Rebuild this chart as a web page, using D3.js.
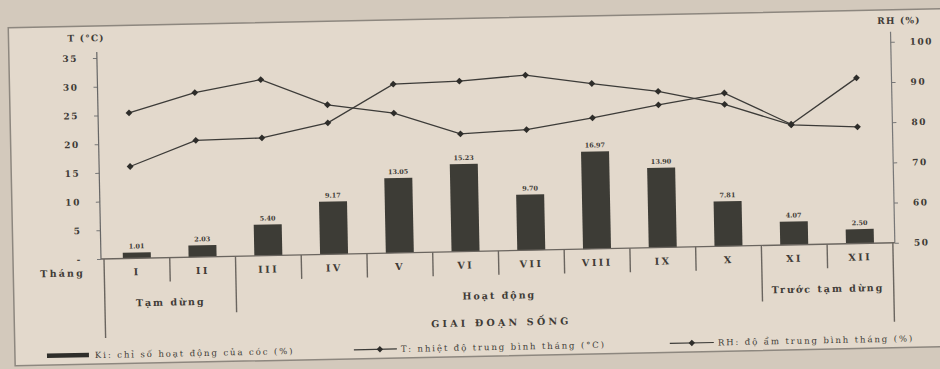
<!DOCTYPE html>
<html><head><meta charset="utf-8">
<script src="https://cdn.jsdelivr.net/npm/d3@7"></script>
<style>body{margin:0;background:#d8cec1}svg{display:block}</style>
</head><body>
<svg id="c" width="940" height="369"></svg>
<script>
// ---- data ----
const months = ["I","II","III","IV","V","VI","VII","VIII","IX","X","XI","XII"];
const activity = [1.01, 2.03, 5.40, 9.17, 13.05, 15.23, 9.70, 16.97, 13.90, 7.81, 4.07, 2.50];
const temperature = [16.0, 20.3, 20.5, 22.9, 29.4, 29.7, 30.5, 28.8, 27.2, 24.7, 20.9, 20.3];
const humidity = [86.2, 90.9, 93.8, 87.2, 84.8, 79.3, 80.0, 82.6, 85.5, 88.1, 80.0, 91.2];
const tTicks = [0, 5, 10, 15, 20, 25, 30, 35];
const tTickLabels = ["-", "5", "10", "15", "20", "25", "30", "35"];
const rhTicks = [50, 60, 70, 80, 90, 100];
const stageNames = ["Tạm dừng", "Hoạt động", "Trước tạm dừng"];
const stageFirst = [0, 2, 10];
const stageLast = [1, 9, 11];
const legendLabels = ["Ki: chỉ số hoạt động của cóc (%)", "T: nhiệt độ trung bình tháng (°C)", "RH: độ ẩm trung bình tháng (%)"];

// ---- drawing ----
const FONT = "DejaVu Serif";
const TXT = "#403b36";
const svg = d3.select("#c");
svg.append("rect").attr("width", 940).attr("height", 369).attr("fill", "#d3c9bc");
const g = svg.append("g").attr("transform", "rotate(-1.17 100 259)");
g.append("rect").attr("x", 13).attr("y", 26).attr("width", 980).attr("height", 338)
  .attr("fill", "#e3d9cc").attr("stroke", "#8d877f").attr("stroke-width", 1.5);

const baseY = 259, topY = 58;
const x = d3.scaleBand().domain(months).range([104, 893]).paddingInner(0.574).paddingOuter(0.287);
const xc = d3.scaleBand().domain(months).range([104, 893]).padding(0);
const xl = d3.scalePoint().domain(months).range([132, 860]);
const yT = d3.scaleLinear().domain([0, 35]).range([baseY, topY]);
const yRH = d3.scaleLinear().domain([50, 100]).range([baseY, topY]);

// axes
const axL = g.append("g").attr("transform", "translate(101,0)")
  .call(d3.axisLeft(yT).tickValues(tTicks).tickFormat((d, i) => tTickLabels[i]).tickSize(4).tickSizeOuter(0).tickPadding(15));
const axR = g.append("g").attr("transform", "translate(895,0)")
  .call(d3.axisRight(yRH).tickValues(rhTicks).tickSize(4).tickSizeOuter(0).tickPadding(15));
[axL, axR].forEach(a => {
  a.select(".domain").remove();
  a.selectAll("line").attr("stroke", "#777");
  a.selectAll("text").attr("font-family", FONT).attr("font-size", 9).attr("font-weight", "bold")
    .attr("fill", TXT).attr("letter-spacing", 1.5);
});
g.append("line").attr("x1", 101).attr("x2", 101).attr("y1", 52).attr("y2", baseY).attr("stroke", "#666").attr("stroke-width", 1.2);
g.append("line").attr("x1", 895).attr("x2", 895).attr("y1", 48).attr("y2", baseY).attr("stroke", "#777").attr("stroke-width", 1.2);
g.append("text").attr("x", 72).attr("y", 41).text("T (°C)")
  .attr("font-family", FONT).attr("font-size", 9).attr("font-weight", "bold").attr("fill", TXT).attr("letter-spacing", 1.2);
g.append("text").attr("x", 882).attr("y", 40).text("RH (%)")
  .attr("font-family", FONT).attr("font-size", 9).attr("font-weight", "bold").attr("fill", TXT).attr("letter-spacing", 1.2);

// bars
g.selectAll(".bar").data(activity).join("rect").attr("class", "bar")
  .attr("x", (d, i) => x(months[i])).attr("width", x.bandwidth())
  .attr("y", d => yT(d)).attr("height", d => yT(0) - yT(d))
  .attr("fill", "#3d3c36");
g.selectAll(".blab").data(activity).join("text").attr("class", "blab")
  .attr("x", (d, i) => x(months[i]) + x.bandwidth() / 2).attr("y", d => yT(d) - 4)
  .attr("text-anchor", "middle").attr("font-family", FONT).attr("font-size", 6.5)
  .attr("font-weight", "bold").attr("fill", TXT).text(d => d.toFixed(2));

// lines
function series(vals, yScale) {
  const line = d3.line().x((d, i) => xl(months[i])).y(d => yScale(d));
  g.append("path").datum(vals).attr("d", line).attr("fill", "none")
    .attr("stroke", "#3c3b38").attr("stroke-width", 1.3);
  g.selectAll(null).data(vals).join("path")
    .attr("d", d3.symbol(d3.symbolDiamond2, 30))
    .attr("transform", (d, i) => `translate(${xl(months[i])},${yScale(d)})`)
    .attr("fill", "#2e2d2a");
}
series(temperature, yT);
series(humidity, yRH);

// baseline + category table
const lc = "#6a655f";
g.append("line").attr("x1", 101).attr("x2", 895).attr("y1", baseY).attr("y2", baseY).attr("stroke", lc).attr("stroke-width", 1.3);
months.forEach((m, i) => {
  if (i === 0) return;
  const boundary = stageFirst.includes(i);
  g.append("line").attr("x1", xc(m)).attr("x2", xc(m)).attr("y1", baseY).attr("y2", boundary ? 315 : 283)
    .attr("stroke", lc).attr("stroke-width", 1.4);
});
g.append("line").attr("x1", 104).attr("x2", 104).attr("y1", baseY).attr("y2", 338).attr("stroke", lc).attr("stroke-width", 1.4);
g.append("line").attr("x1", 893).attr("x2", 893).attr("y1", baseY).attr("y2", 338).attr("stroke", lc).attr("stroke-width", 1.4);
g.selectAll(".mlab").data(months).join("text").attr("class", "mlab")
  .attr("x", m => xc(m) + xc.bandwidth() / 2).attr("y", 276).attr("text-anchor", "middle")
  .attr("font-family", FONT).attr("font-size", 9.5).attr("font-weight", "bold").attr("letter-spacing", 2.5)
  .attr("fill", TXT).text(m => m);
g.append("text").attr("x", 40).attr("y", 276).text("Tháng").attr("font-family", FONT).attr("font-size", 9.5)
  .attr("font-weight", "bold").attr("letter-spacing", 2.2).attr("fill", TXT);
stageNames.forEach((s, k) => {
  const x0 = xc(months[stageFirst[k]]), x1 = xc(months[stageLast[k]]) + xc.bandwidth();
  g.append("text").attr("x", (x0 + x1) / 2).attr("y", 307).attr("text-anchor", "middle")
    .attr("font-family", FONT).attr("font-size", 9.5).attr("font-weight", "bold").attr("letter-spacing", 2)
    .attr("fill", TXT).text(s);
});
g.append("text").attr("x", 500).attr("y", 334).attr("text-anchor", "middle").text("GIAI ĐOẠN SỐNG")
  .attr("font-family", FONT).attr("font-size", 9.5).attr("font-weight", "bold").attr("letter-spacing", 3.2).attr("fill", TXT);

// legend
const ly = 355;
g.append("rect").attr("x", 45).attr("y", ly - 2.5).attr("width", 42).attr("height", 4.5).attr("fill", "#2f2e2a");
g.append("line").attr("x1", 352).attr("x2", 395).attr("y1", ly).attr("y2", ly).attr("stroke", "#3c3b38").attr("stroke-width", 1.2);
g.append("path").attr("d", d3.symbol(d3.symbolDiamond2, 26)).attr("transform", `translate(378,${ly})`).attr("fill", "#2e2d2a");
g.append("line").attr("x1", 668).attr("x2", 712).attr("y1", ly).attr("y2", ly).attr("stroke", "#3c3b38").attr("stroke-width", 1.2);
g.append("path").attr("d", d3.symbol(d3.symbolDiamond2, 26)).attr("transform", `translate(690,${ly})`).attr("fill", "#2e2d2a");
[[93, 0], [399, 1], [716, 2]].forEach(([lx, k]) => {
  g.append("text").attr("x", lx).attr("y", ly + 3).text(legendLabels[k])
    .attr("font-family", FONT).attr("font-size", 8.5).attr("letter-spacing", 1.9).attr("fill", TXT);
});
</script>
</body></html>
